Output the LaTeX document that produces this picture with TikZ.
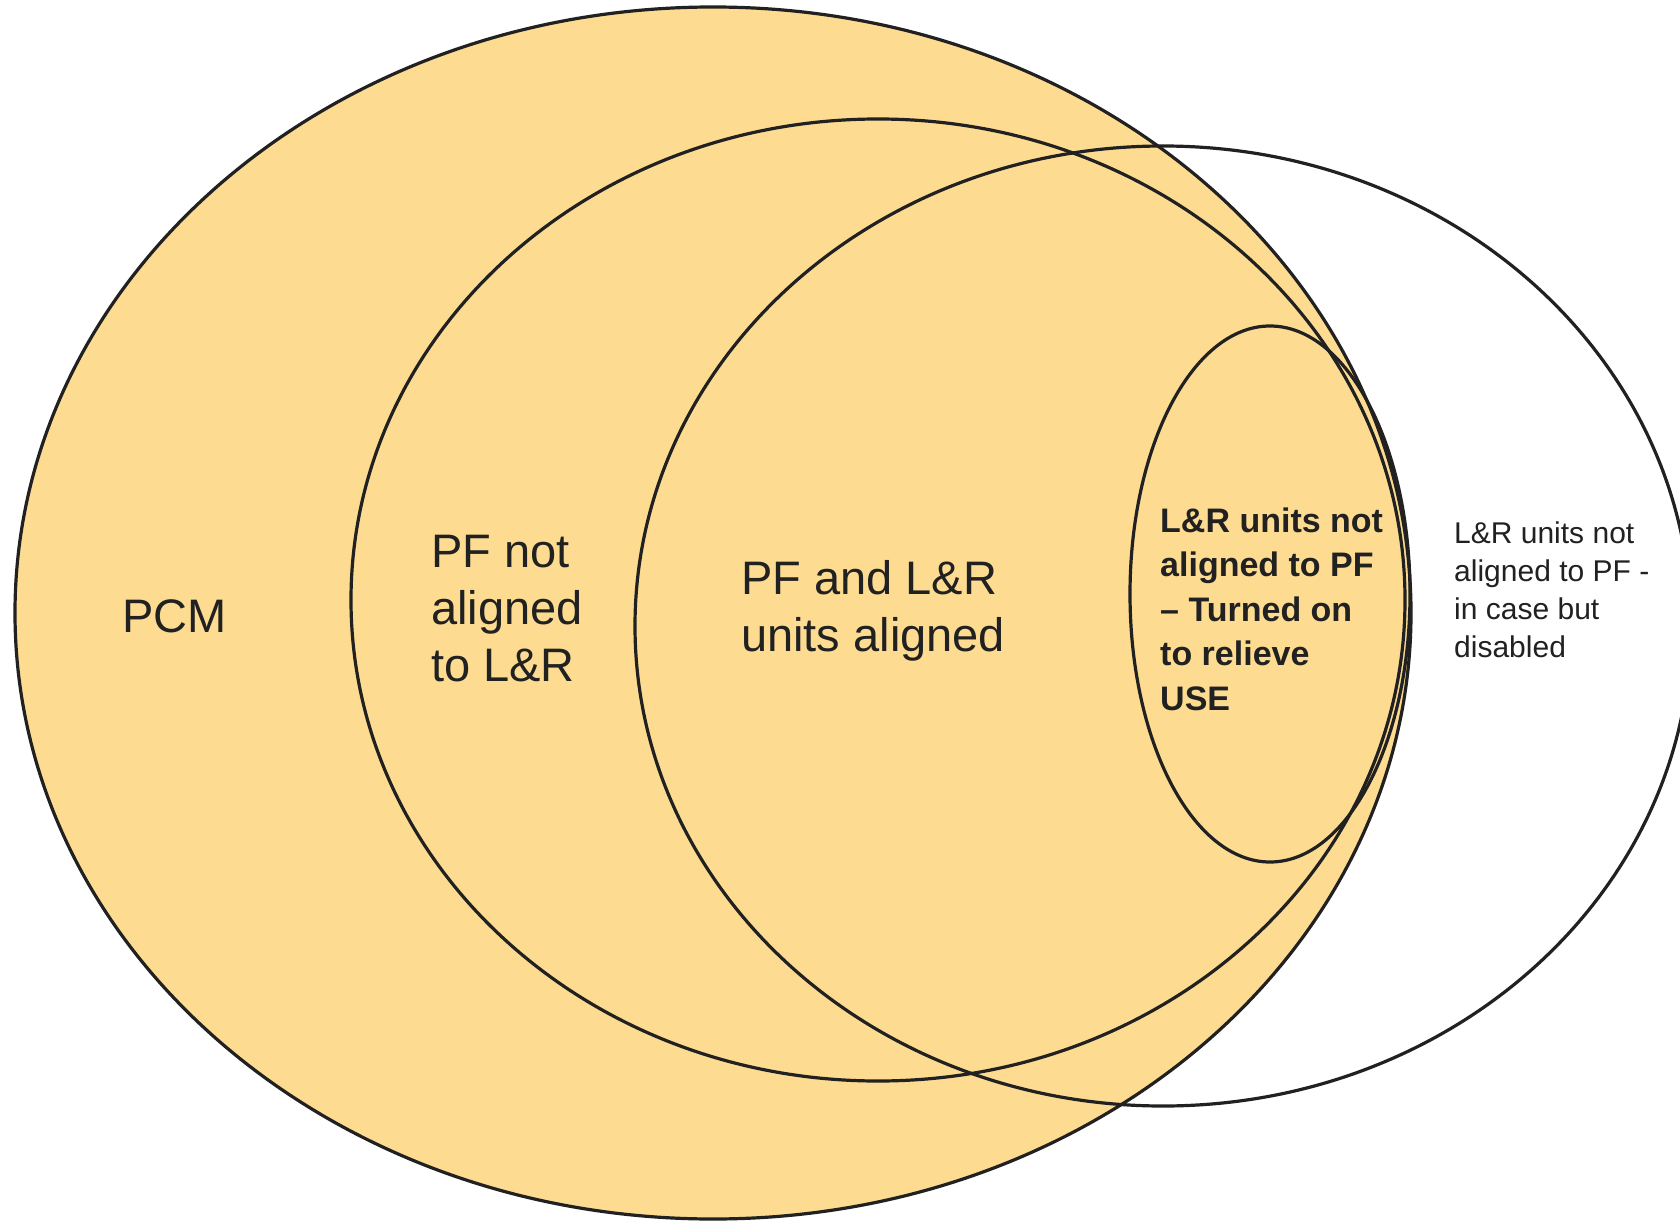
\documentclass[tikz,border=0pt]{standalone}
\usepackage{fontspec}
\setmainfont{Liberation Sans}
\usepackage{tikz}
\usetikzlibrary{positioning}
\definecolor{pcmfill}{HTML}{FDDC92}
\definecolor{ink}{HTML}{212121}

\begin{document}
\begin{tikzpicture}[x=1pt, y=-1pt,
    venn/.style={draw=ink, line width=3.2pt},
    lbl/.style={anchor=west, inner sep=0pt, align=left, text=ink},
    bigtxt/.style={lbl, font=\fontsize{47}{57}\selectfont},
    boldtxt/.style={lbl, font=\fontsize{34}{44.5}\selectfont\bfseries},
    sidetxt/.style={lbl, font=\fontsize{30}{38}\selectfont}]
        \fill[white] (0,0) rectangle (1680,1222);
        \useasboundingbox (0,0) rectangle (1680,1222);
        % sets
        \fill[pcmfill] (713,613) ellipse [x radius=698pt, y radius=606pt];
        \draw[venn] (713,613) ellipse [x radius=698pt, y radius=606pt];
        \draw[venn] (878,600) ellipse [x radius=527pt, y radius=481pt];
        \draw[venn] (1163,626) ellipse [x radius=528pt, y radius=480pt];
        \draw[venn] (1270,594) ellipse [x radius=140pt, y radius=268pt];
        % labels
        \node[bigtxt] (pcm) at (122,616) {PCM};
        \node[bigtxt] (pfonly) at (431,609) {PF not\\aligned\\to L\&R};
        \node[bigtxt] (both) at (741,611) {PF and L\&R\\units aligned};
        \node[boldtxt] (lron) at (1160,609) {L\&R units not\\aligned to PF\\– Turned on\\to relieve\\USE};
        \node[sidetxt] (lroff) at (1454,590) {L\&R units not\\aligned to PF -\\in case but\\disabled};
    \end{tikzpicture}
\end{document}
